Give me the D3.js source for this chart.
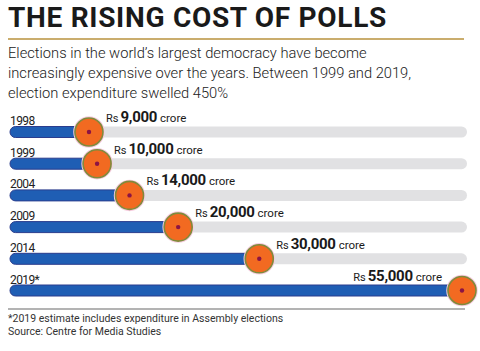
<!DOCTYPE html>
<html>
<head>
<meta charset="utf-8">
<script src="https://cdn.jsdelivr.net/npm/d3@7"></script>
<style>
  body { margin: 0; background: #fff; }
  text { font-family: Roboto, "Noto Sans", sans-serif; }
</style>
</head>
<body>
<div id="main"></div>
<script>
/* Define Size */
const width = 480, height = 351;

/* Define Data */
const years = ["1998", "1999", "2004", "2009", "2014", "2019*"];
const spend = [9000, 10000, 14000, 20000, 30000, 55000]; // Rs crore
const subtitle = [
  "Elections in the world\u2019s largest democracy have become",
  "increasingly expensive over the years. Between 1999 and 2019,",
  "election expenditure swelled 450%"
];
const notes = [
  "*2019 estimate includes expenditure in Assembly elections",
  "Source: Centre for Media Studies"
];

const svg = d3.select("#main").append("svg")
  .attr("width", width).attr("height", height);

/* Header */
svg.append("text")
  .attr("x", 8).attr("y", 27)
  .text("THE RISING COST OF POLLS")
  .style("font-size", "28px")
  .style("font-weight", "bold")
  .style("letter-spacing", "0.7px")
  .style("fill", "#1a1a1a");

svg.append("line")
  .attr("x1", 8).attr("x2", 464)
  .attr("y1", 39).attr("y2", 39)
  .attr("stroke", "#b8923c").attr("stroke-width", 1.6);

svg.selectAll(".sub")
  .data(subtitle).enter()
  .append("text")
  .attr("class", "sub")
  .attr("x", 8)
  .attr("y", (d, i) => 58 + i * 20)
  .text(d => d)
  .style("font-size", "14.7px")
  .style("font-weight", 300)
  .style("fill", "#222");

/* Scales */
const x = d3.scaleLinear().domain([0, 55000]).range([16, 462]);
const y = d3.scalePoint().domain(years).range([132, 290.5]);
const barH = 11, r = 14;

const rows = svg.selectAll(".row")
  .data(years.map((yr, i) => ({ year: yr, value: spend[i] })))
  .enter().append("g")
  .attr("class", "row")
  .attr("transform", d => `translate(0,${y(d.year)})`);

// grey track
rows.append("rect")
  .attr("x", 10).attr("y", -barH / 2)
  .attr("width", 467 - 10).attr("height", barH)
  .attr("rx", barH / 2)
  .attr("fill", "#e1e1e3");

// blue bar
rows.append("rect")
  .attr("x", 10).attr("y", -barH / 2)
  .attr("width", d => x(d.value) - 10).attr("height", barH)
  .attr("rx", barH / 2)
  .attr("fill", "#1f5eb4")
  .attr("stroke", "#2b3d8e").attr("stroke-width", 1);

// year label
rows.append("text")
  .attr("x", 10).attr("y", -7)
  .text(d => d.year)
  .style("font-size", "12px")
  .style("letter-spacing", "-0.6px")
  .style("fill", "#222");

// knob
rows.append("circle")
  .attr("cx", d => x(d.value)).attr("r", r + 1)
  .attr("fill", "none")
  .attr("stroke", "#f7cde0").attr("stroke-width", 1.5);
rows.append("circle")
  .attr("cx", d => x(d.value)).attr("r", r)
  .attr("fill", "#f26a21")
  .attr("stroke", "#7f8a3c").attr("stroke-width", 1.6);
rows.append("circle")
  .attr("cx", d => x(d.value)).attr("r", 2.2)
  .attr("fill", "#8c1444");

// value label
const fmt = d3.format(",");
const last = years.length - 1;
const lab = rows.append("text")
  .attr("x", (d, i) => i === last ? x(d.value) - 20 : x(d.value) + 17)
  .attr("y", -10)
  .attr("text-anchor", (d, i) => i === last ? "end" : "start")
  .style("fill", "#1a1a1a");
lab.append("tspan").text("Rs").style("font-size", "11px");
lab.append("tspan").attr("dx", 2).text(d => fmt(d.value))
  .style("font-size", "15px").style("font-weight", "bold").style("letter-spacing", "-0.3px");
lab.append("tspan").attr("dx", 3).text("crore").style("font-size", "11.5px");

/* Footer */
svg.append("line")
  .attr("x1", 8).attr("x2", 465)
  .attr("y1", 309).attr("y2", 309)
  .attr("stroke", "#9a9a9a").attr("stroke-width", 1.5);

svg.selectAll(".note")
  .data(notes).enter()
  .append("text")
  .attr("class", "note")
  .attr("x", 8)
  .attr("y", (d, i) => 322 + i * 13)
  .text(d => d)
  .style("font-size", "10.5px")
  .style("fill", "#333");
</script>
</body>
</html>
